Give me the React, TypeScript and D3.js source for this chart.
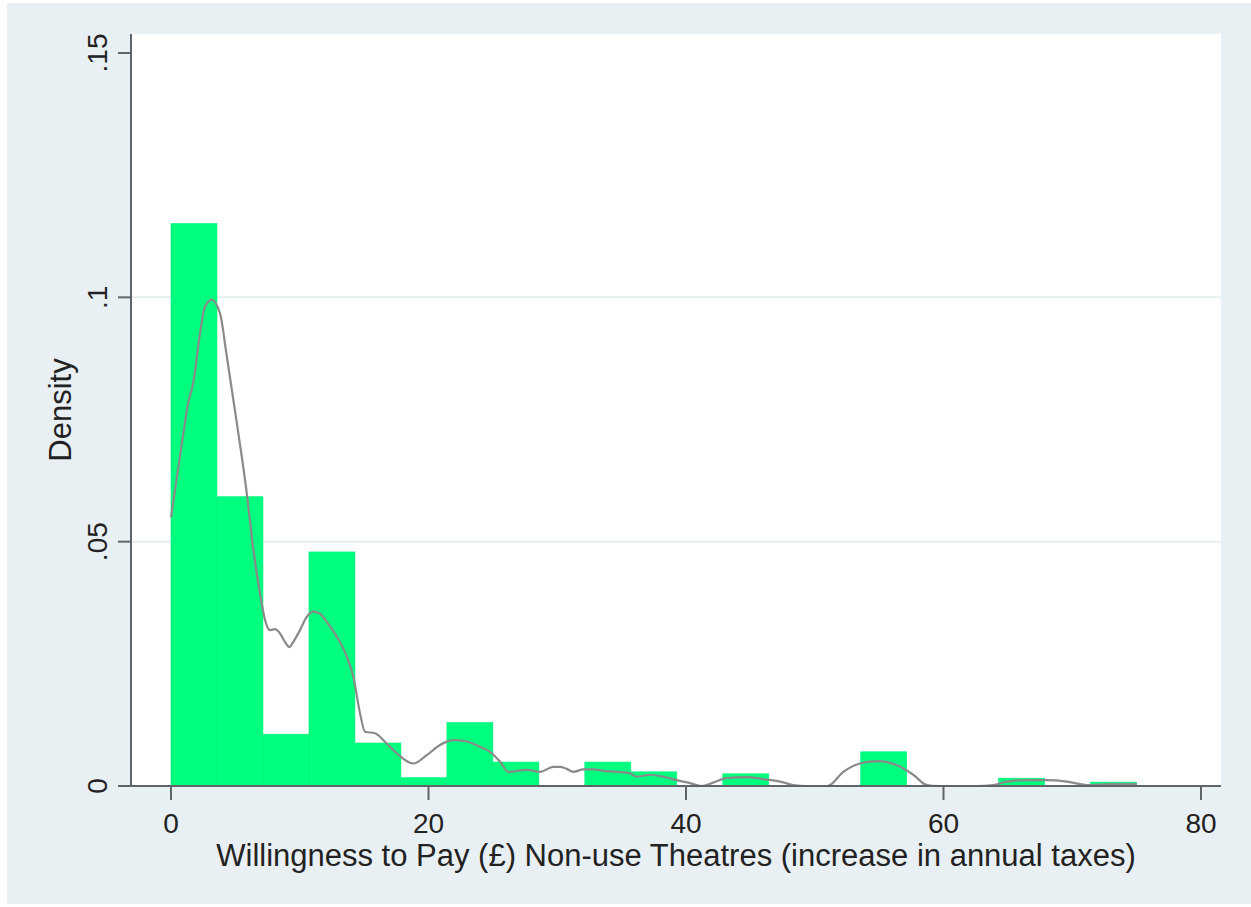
import React from "react";
import * as d3 from "d3";

// Histogram: 21 bins over [0, 75]
const binStart = 0;
const binEnd = 75;
const binDensity = [
  0.1151, 0.0592, 0.0106, 0.0479, 0.0088, 0.0017, 0.013, 0.0049, 0, 0.0049, 0.0029,
  0, 0.0025, 0, 0, 0.007, 0, 0, 0.0016, 0, 0.0008,
];

// Kernel density curve (x, density)
const kdeX = [
  0, 0.96, 1.34, 1.73, 2.25, 2.64, 3.16, 3.81, 4.33, 5.1, 5.88, 6.39, 6.91, 7.3, 7.69,
  8.08, 8.47, 8.85, 9.19, 9.5, 10.02, 10.54, 11.05, 11.57, 12.09, 12.87, 13.65, 14.16, 14.68,
  15.07, 15.84, 16.75, 17.53, 18.82, 19.86, 20.89, 21.93, 22.97, 24.0, 24.78, 25.55, 26.2,
  27.63, 28.66, 29.69, 30.21, 30.73, 31.25, 32.02, 32.8, 33.58, 34.62, 35.65, 36.17, 37.2,
  38.24, 39.28, 40.31, 41.22, 42.12, 43.16, 44.71, 46.0, 47.3, 48.33, 49.37, 51.0, 52.22,
  53.51, 54.94, 56.36, 57.65, 58.7, 59.6, 62.5, 63.87, 64.91, 66.46, 68.02, 69.57, 71.12,
  73.19, 75.0,
];
const kdeY = [
  0.055, 0.0722, 0.0785, 0.0825, 0.0926, 0.0981, 0.0995, 0.0967, 0.088, 0.0745, 0.06,
  0.0485, 0.0394, 0.034, 0.0319, 0.0321, 0.0312, 0.0295, 0.0284, 0.0295, 0.0319, 0.0346,
  0.0357, 0.0353, 0.0336, 0.0306, 0.0265, 0.0224, 0.0149, 0.0111, 0.0108, 0.0087, 0.0067,
  0.0046, 0.0063, 0.0084, 0.0094, 0.0091, 0.008, 0.007, 0.005, 0.0029, 0.0033, 0.0029, 0.0039,
  0.0039, 0.0035, 0.0029, 0.0034, 0.0034, 0.0031, 0.0029, 0.0026, 0.0019, 0.0023, 0.0019,
  0.0012, 0.0006, 0, 0.0007, 0.0016, 0.0018, 0.0014, 0.0009, 0.0002, 0, 0, 0.0029, 0.0046,
  0.0051, 0.0043, 0.0023, 0.0002, 0, 0, 0.0002, 0.0009, 0.0012, 0.0012, 0.0009, 0.0002,
  0.0004, 0.0004,
];

const xTicks = [0, 20, 40, 60, 80];
const yTicks = [0, 0.05, 0.1, 0.15];
const yTickLabels = ["0", ".05", ".1", ".15"];
const xTitle = "Willingness to Pay (£) Non-use Theatres (increase in annual taxes)";
const yTitle = "Density";

export default function App() {
  const W = 1251;
  const H = 907;
  const plot = { left: 131, right: 1221, top: 34, bottom: 786 };
  const x = d3.scaleLinear().domain([0, 80]).range([171, 1201]);
  const y = d3.scaleLinear().domain([0, 0.15]).range([786, 53]);
  const nb = binDensity.length;
  const bw = (binEnd - binStart) / nb;
  const bins = binDensity.map((d, i) => ({ x0: binStart + i * bw, x1: binStart + (i + 1) * bw, d }));
  const pts: [number, number][] = kdeX.map((v, i) => [v, kdeY[i]]);
  const line = d3
    .line<[number, number]>()
    .x((p) => x(p[0]))
    .y((p) => y(Math.max(0, p[1])))
    .curve(d3.curveMonotoneX);
  const font = "'Liberation Sans', Arial, Helvetica, sans-serif";
  const axisColor = "#5f6468";
  const textColor = "#222";
  const fs = 28;
  const ts = 31;
  return (
    <svg
      width={W}
      height={H}
      style={{ position: "absolute", left: 0, top: 0, background: "#ffffff" }}
    >
      <rect x={7} y={3} width={W - 7} height={H - 6} fill="#e9f0f3" />
      <rect
        x={plot.left}
        y={plot.top}
        width={plot.right - plot.left}
        height={plot.bottom - plot.top}
        fill="#ffffff"
      />
      {yTicks
        .filter((t) => t > 0 && t < 0.15)
        .map((t) => (
          <line
            key={"g" + t}
            x1={plot.left}
            x2={plot.right}
            y1={y(t)}
            y2={y(t)}
            stroke="#e6eff1"
            strokeWidth={2}
          />
        ))}
      {bins
        .filter((b) => b.d > 0)
        .map((b, i) => (
          <rect
            key={"b" + i}
            x={x(b.x0)}
            y={y(b.d)}
            width={x(b.x1) - x(b.x0)}
            height={y(0) - y(b.d)}
            fill="#00ff7f"
            stroke="#00f27a"
            strokeWidth={0.6}
          />
        ))}
      <path d={line(pts) || ""} fill="none" stroke="#8a8a8a" strokeWidth={2.2} />
      {/* axes */}
      <line x1={plot.left} x2={plot.left} y1={plot.top} y2={plot.bottom + 1} stroke={axisColor} strokeWidth={2} />
      <line x1={plot.left} x2={plot.right} y1={plot.bottom} y2={plot.bottom} stroke={axisColor} strokeWidth={2} />
      {yTicks.map((t, i) => (
        <g key={"yt" + t}>
          <line x1={118} x2={plot.left} y1={y(t)} y2={y(t)} stroke={axisColor} strokeWidth={2} />
          <text
            transform={`translate(107,${y(t)}) rotate(-90)`}
            textAnchor="middle"
            fontFamily={font}
            fontSize={fs}
            fill={textColor}
          >
            {yTickLabels[i]}
          </text>
        </g>
      ))}
      {xTicks.map((t) => (
        <g key={"xt" + t}>
          <line x1={x(t)} x2={x(t)} y1={plot.bottom} y2={800} stroke={axisColor} strokeWidth={2} />
          <text x={x(t)} y={833} textAnchor="middle" fontFamily={font} fontSize={fs} fill={textColor}>
            {t}
          </text>
        </g>
      ))}
      <text
        x={(plot.left + plot.right) / 2}
        y={866}
        textAnchor="middle"
        fontFamily={font}
        fontSize={ts}
        fill={textColor}
      >
        {xTitle}
      </text>
      <text
        transform={`translate(71,${(plot.top + plot.bottom) / 2}) rotate(-90)`}
        textAnchor="middle"
        fontFamily={font}
        fontSize={ts}
        fill={textColor}
      >
        {yTitle}
      </text>
    </svg>
  );
}
